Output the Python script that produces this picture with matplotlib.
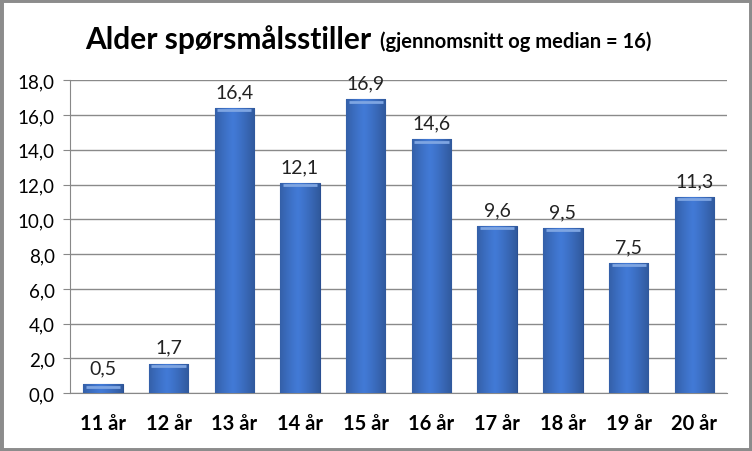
import numpy as np
import matplotlib.pyplot as plt
from matplotlib.patches import Rectangle

categories = ["11 år", "12 år", "13 år", "14 år", "15 år", "16 år", "17 år", "18 år", "19 år", "20 år"]
values = [0.5, 1.7, 16.4, 12.1, 16.9, 14.6, 9.6, 9.5, 7.5, 11.3]
yticks = [0, 2, 4, 6, 8, 10, 12, 14, 16, 18]

plt.rcParams['font.family'] = ['Lato', 'DejaVu Sans']

fig = plt.figure(figsize=(7.52, 4.52), dpi=100)
fig.patches.append(Rectangle((0, 0), 1, 1, transform=fig.transFigure, fill=False,
                             edgecolor='#8c8c8c', linewidth=5, zorder=10))
ax = fig.add_axes([0.093, 0.128, 0.874, 0.692])

x = np.arange(len(categories))
bars = ax.bar(x, values, width=0.6, color='#3a6cc0', edgecolor='#2a4f92', linewidth=0.8, zorder=3)

# horizontal gradient to mimic the bevelled look
grad = np.linspace(0, 1, 64)
shade = 1 - 0.55 * np.abs(grad - 0.45) ** 1.2
base = np.array([0x3f, 0x74, 0xcc]) / 255
img = np.clip(shade[None, :, None] * base[None, None, :] * 1.05, 0, 1)
for b in bars:
    bx, by = b.get_x(), b.get_y()
    w, h = b.get_width(), b.get_height()
    im = ax.imshow(img, extent=[bx, bx + w, by, by + h], aspect='auto', zorder=3.5, interpolation='bilinear')
    im.set_clip_path(b)
    # light top edge
    ax.plot([bx + 0.04, bx + w - 0.04], [by + h - 0.12, by + h - 0.12], color='#7ea5e2', lw=2, zorder=4,
            solid_capstyle='butt')

for xi, v in zip(x, values):
    ax.text(xi, v + 0.45, f"{v:.1f}".replace('.', ','), ha='center', va='bottom', fontsize=14, color='#222222')

ax.set_xlim(-0.5, len(categories) - 0.5)
ax.set_ylim(0, 18)
ax.set_yticks(yticks)
ax.set_yticklabels([f"{t:.1f}".replace('.', ',') for t in yticks], fontsize=13.5)
ax.set_xticks(x)
ax.set_xticklabels(categories, fontsize=14.5, fontweight='bold')
ax.tick_params(axis='x', length=0, pad=14)
ax.tick_params(axis='y', length=5, color='#888888', pad=6)
ax.grid(axis='y', color='#8a8a8a', linewidth=1, zorder=0)
for s in ['top', 'right']:
    ax.spines[s].set_visible(False)
ax.spines['left'].set_color('#888888')
ax.spines['bottom'].set_color('#888888')

t1 = fig.text(0.113, 0.912, "Alder spørsmålsstiller", fontsize=21.5, fontweight='bold', ha='left', va='center')
fig.canvas.draw()
bb = t1.get_window_extent()
x2 = (bb.x1 + 9) / fig.bbox.width
fig.text(x2, 0.908, "(gjennomsnitt og median = 16)", fontsize=14.5, fontweight='bold', ha='left', va='center')

fig.savefig("out.png", dpi=100)
